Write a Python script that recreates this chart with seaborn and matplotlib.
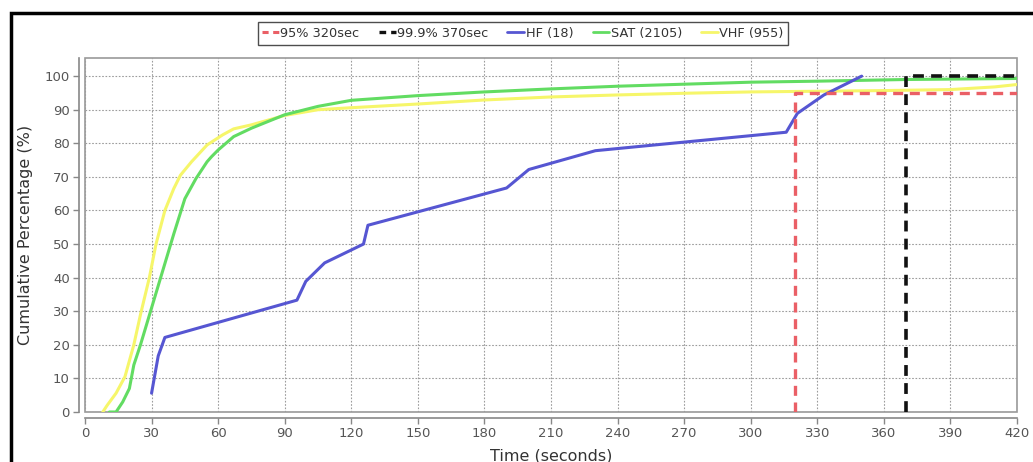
import matplotlib
matplotlib.use("Agg")
import matplotlib.pyplot as plt
import seaborn as sns
import pandas as pd
from matplotlib.patches import Rectangle
from matplotlib.lines import Line2D

# ---- data ----
hf_t = [30, 33, 36, 95.5, 99.5, 108, 125.5, 127.5, 190, 200, 230, 316, 321, 333, 350]
hf_p = [5.6, 16.7, 22.2, 33.3, 38.9, 44.4, 50.0, 55.6, 66.7, 72.2, 77.8, 83.3, 88.9, 94.4, 100]

sat_t = [11, 14, 17, 20, 22, 25, 30, 35, 40, 45, 50, 55, 57, 60, 67, 75, 90, 105, 120, 150, 180, 210, 240, 270, 300, 330, 370, 420]
sat_p = [0, 0, 3, 7, 14, 20, 31, 42, 53, 63.5, 69.5, 74.5, 76, 78, 82, 84.5, 88.5, 91, 92.8, 94.2, 95.3, 96.2, 97, 97.6, 98.2, 98.5, 99, 99.3]

vhf_t = [8, 10, 14, 18, 22, 25, 29, 32, 36, 40, 43, 48, 55, 62, 67, 75, 90, 105, 120, 150, 180, 210, 240, 270, 300, 330, 360, 390, 410, 420]
vhf_p = [0, 2, 5.6, 10.5, 20, 29, 40, 50, 60, 66.5, 70.5, 74.5, 79.5, 82.5, 84.3, 85.5, 88.3, 90, 90.6, 91.7, 92.9, 93.8, 94.4, 94.9, 95.3, 95.5, 95.7, 96, 96.8, 97.5]

p95_t = [320, 320, 420]
p95_p = [0, 95, 95]
p999_t = [370, 370, 420]
p999_p = [0, 100, 100]

labels = ["95% 320sec", "99.9% 370sec", "HF (18)", "SAT (2105)", "VHF (955)"]
x_ticks = list(range(0, 421, 30))
y_ticks = list(range(0, 101, 10))

# ---- styling ----
sns.set_theme(style="white")
plt.rcParams["font.family"] = ["DejaVu Sans"]

W, H = 1033, 462
fig = plt.figure(figsize=(W / 100, H / 100), dpi=100)
ax = fig.add_axes([85 / W, 1 - 412 / H, (1017 - 85) / W, (412 - 58) / H])

c_hf = "#5656d2"
c_sat = "#62dc62"
c_vhf = "#f6f66a"
c_red = "#ea5f66"
c_blk = "#111111"

def df(t, p):
    return pd.DataFrame({"t": t, "p": p})

common = dict(x="t", y="p", ax=ax, sort=False, estimator=None)
sns.lineplot(data=df(vhf_t, vhf_p), color=c_vhf, lw=2.2, zorder=3, **common)
sns.lineplot(data=df(sat_t, sat_p), color=c_sat, lw=2.2, zorder=4, **common)
sns.lineplot(data=df(hf_t, hf_p), color=c_hf, lw=2.2, zorder=5, **common)
sns.lineplot(data=df(p95_t, p95_p), color=c_red, lw=2.4, zorder=6, linestyle=(0, (3, 2)), **common)
sns.lineplot(data=df(p999_t, p999_p), color=c_blk, lw=2.6, zorder=7, linestyle=(0, (3, 2)), **common)

ax.set_xlim(0, 420)
ax.set_ylim(0, 105.4)
ax.set_xticks(x_ticks)
ax.set_yticks(y_ticks)
ax.grid(True, color="#9c9c9c", linestyle=(0, (1.5, 1.5)), linewidth=0.8)
ax.set_axisbelow(True)

# plot-area border
ax.patch.set_edgecolor("#9a9a9a")
ax.patch.set_linewidth(1.2)
for s in ["top", "right"]:
    ax.spines[s].set_visible(False)
for s in ["left", "bottom"]:
    ax.spines[s].set_visible(True)
    ax.spines[s].set_color("#888888")
    ax.spines[s].set_linewidth(1.2)
ax.spines["left"].set_position(("outward", 4))
ax.spines["bottom"].set_position(("outward", 4))
ax.tick_params(axis="both", which="both", direction="out", length=4, width=1, color="#888888",
               labelsize=9.5, labelcolor="#555555", pad=3, left=True, bottom=True)

ax.set_xlabel("Time (seconds)", fontsize=11.5, color="#333333", labelpad=6)
ax.set_ylabel("Cumulative Percentage (%)", fontsize=11.5, color="#333333", labelpad=8)

# legend
handles = [
    Line2D([], [], color=c_red, lw=2.2, linestyle=(0, (2, 1.5))),
    Line2D([], [], color=c_blk, lw=2.4, linestyle=(0, (2, 1.5))),
    Line2D([], [], color=c_hf, lw=2),
    Line2D([], [], color=c_sat, lw=2),
    Line2D([], [], color=c_vhf, lw=2),
]
leg = fig.legend(handles, labels, loc="center", bbox_to_anchor=(523 / W, 1 - 33.5 / H), ncol=5,
                 frameon=True, fontsize=9.3, handlelength=1.3, handletextpad=0.1, columnspacing=1.5,
                 borderpad=0.35, fancybox=False)
leg.get_frame().set_edgecolor("#222222")
leg.get_frame().set_linewidth(1.0)
for t in leg.get_texts():
    t.set_color("#333333")

# outer figure border (black, left & top visible)
fig.patches.append(Rectangle((11 / W, -0.1), 1.2, 1 - 13 / H + 0.1, transform=fig.transFigure,
                             fill=False, edgecolor="black", linewidth=2.5, zorder=0))

fig.savefig("out.png", dpi=100)
